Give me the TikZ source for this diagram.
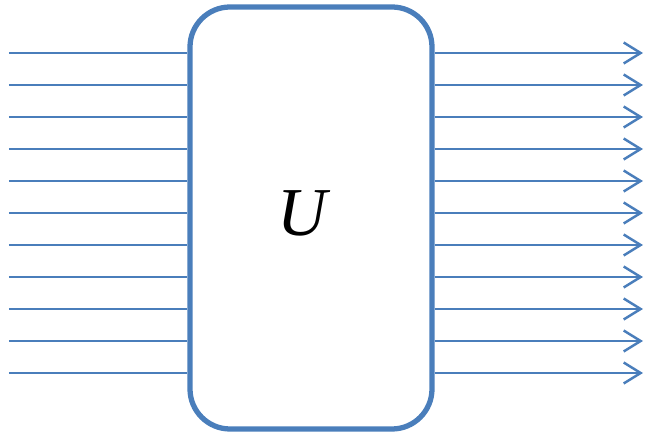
\documentclass[tikz,border=0pt]{standalone}
\usepackage{fontspec}
\setmainfont{Liberation Serif}
\usetikzlibrary{arrows.meta}
\definecolor{wireblue}{HTML}{4A7EBB}
\begin{document}
\begin{tikzpicture}[
    gate_style/.style={draw=wireblue, line width=3pt, rounded corners=0.8cm,
        minimum width=4.84cm, minimum height=8.44cm, inner sep=0pt},
    wire_style/.style={draw=wireblue, line width=1.4pt},
    out_style/.style={wire_style, -{Straight Barb[length=0.34cm, width=0.42cm, line width=1.4pt]}}
]
\useasboundingbox (0,0) rectangle (12.92,8.66);
% Porte U
\node[gate_style] (box) at (6.22, 4.3) {};
\node[font=\itshape\fontsize{39}{41}\selectfont] (lbl) at (6.04, 4.4) {U};
% Fils d'entree et de sortie
\foreach \i in {0,...,10} {
    \pgfmathsetmacro{\yy}{7.6 - 0.64*\i}
    \coordinate (in\i) at (0.18, \yy);
    \coordinate (out\i) at (12.86, \yy);
    \draw[wire_style] (in\i) -- (in\i -| box.west);
    \draw[out_style] (out\i -| box.east) -- (out\i);
}
\end{tikzpicture}
\end{document}
